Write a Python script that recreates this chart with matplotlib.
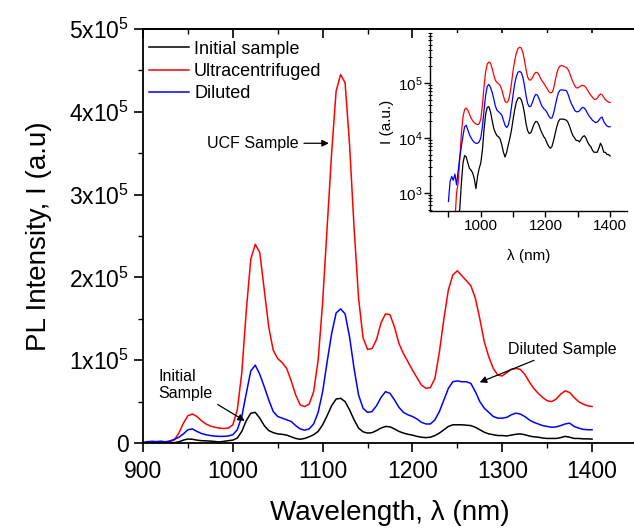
import numpy as np
import matplotlib
matplotlib.use('Agg')
import matplotlib.pyplot as plt
from matplotlib.ticker import MultipleLocator, FixedLocator, NullFormatter

plt.rcParams['font.family'] = ['Liberation Sans', 'DejaVu Sans']
plt.rcParams['mathtext.fontset'] = 'custom'
plt.rcParams['mathtext.rm'] = 'Liberation Sans'
plt.rcParams['mathtext.it'] = 'Liberation Sans:italic'

# wavelength grid (nm), 5 nm steps, 900..1400
wavelength = list(range(900, 1405, 5))

# PL intensities in units of 1e3
initial = [0.3, 0.3, 0.4, 0.4, 0.4, 0.4, 0.4, 0.5, 1.5, 3.5,
           4.8, 4.5, 3.5, 2.8, 2.6, 2.3, 1.8, 1.2, 2.0, 2.8,
           3.5, 6, 14, 27, 36, 37, 30, 21, 15, 12.5,
           11, 10.5, 9.5, 7.5, 5.5, 4.5, 5.5, 7.5, 10, 14,
           22, 33, 45, 53, 54, 50, 40, 28, 18, 13.5,
           12, 12.5, 15, 18, 20, 19.5, 17, 14, 12, 10.5,
           9.5, 8, 7, 6.5, 7, 9, 12, 16, 20, 22,
           22, 22, 21.5, 21, 19, 16, 13, 11, 10, 9,
           9, 8.5, 9.5, 10.5, 11, 10, 8.5, 7.5, 7, 6,
           5.5, 5.5, 5.5, 6.5, 8, 7, 5.5, 5.5, 5, 5, 4.7]

ultra = [0.3, 0.3, 0.3, 0.3, 0.3, 1.0, 1.5, 4, 12, 24,
         33, 35, 32, 27, 23, 20.5, 19, 18, 17.5, 18,
         22, 40, 85, 160, 222, 240, 230, 185, 140, 112,
         102, 97, 90, 75, 58, 46, 44, 47, 62, 100,
         170, 260, 350, 425, 445, 435, 360, 260, 175, 127,
         113, 114, 125, 145, 156, 155, 140, 120, 108, 98,
         88, 79, 70, 66, 67, 78, 110, 150, 185, 203,
         208, 202, 196, 190, 175, 150, 122, 104, 90, 82,
         81, 85, 89, 90, 89, 83, 74, 66, 60, 55,
         51, 50, 53, 59, 63, 61, 55, 50, 47, 45, 44]

diluted = [0.7, 1.6, 2.0, 1.7, 2.2, 1.4, 2.5, 4.5, 7, 11,
           16, 17, 14, 11.5, 10, 9, 8.3, 8, 8, 8.5,
           10, 16, 32, 60, 87, 94, 83, 68, 52, 38,
           32, 30, 28, 26, 21, 17, 15.5, 17, 23, 37,
           62, 98, 132, 157, 162, 156, 128, 90, 58, 42,
           37, 38, 45, 55, 62, 60, 52, 43, 37, 34,
           32, 29, 25, 23, 23, 28, 38, 52, 66, 74,
           75, 74, 74, 72, 62, 50, 42, 37, 32, 30,
           30, 31, 34, 36, 35, 32, 28, 25, 23, 21,
           20, 19, 19.5, 21, 23, 24, 20, 18, 16.5, 16, 16]

series = [('Initial sample', initial, 'black'),
          ('Ultracentrifuged', ultra, 'red'),
          ('Diluted', diluted, 'blue')]

W, H = 634, 529
fig = plt.figure(figsize=(W / 100, H / 100), dpi=100)

# main axes (right side runs past the picture edge, like the cropped original)
ax = fig.add_axes([143 / W, (H - 443) / H, (637 - 143) / W, (443 - 29) / H])
x = np.array(wavelength)
for name, vals, col in series:
    ax.plot(x, np.array(vals) * 1e3, color=col, lw=1.1, label=name)

ax.set_xlim(900, 1450)
ax.set_ylim(0, 5e5)
ax.spines['right'].set_visible(False)
ax.xaxis.set_minor_locator(MultipleLocator(50))
ax.yaxis.set_minor_locator(MultipleLocator(5e4))
ax.set_xticks([900, 1000, 1100, 1200, 1300, 1400])
ytick_labels = ['0'] + ['%dx10$^{5}$' % k for k in range(1, 6)]
ax.set_yticks([k * 1e5 for k in range(6)])
ax.set_yticklabels(ytick_labels)
ax.tick_params(which='major', direction='out', length=6.5, width=1.2,
               labelsize=16.5, top=False, right=False)
ax.tick_params(axis='x', which='major', pad=6)
ax.tick_params(axis='y', which='major', pad=3.5)
ax.tick_params(which='minor', direction='out', length=3.5, width=1.0,
               top=False, right=False)
for s in ['left', 'bottom', 'top']:
    ax.spines[s].set_linewidth(1.3)

top = ax.secondary_xaxis('top')
top.xaxis.set_major_locator(MultipleLocator(100))
top.xaxis.set_minor_locator(MultipleLocator(50))
top.tick_params(which='major', direction='in', length=6.5, width=1.2, labeltop=False)
top.tick_params(which='minor', direction='in', length=3.5, width=1.0)
top.xaxis.set_major_formatter(NullFormatter())
top.spines['top'].set_linewidth(1.3)

ax.set_xlabel('Wavelength, λ (nm)', fontsize=20, labelpad=12)
ax.set_ylabel('PL Intensity, I (a.u)', fontsize=20, labelpad=12)

leg = ax.legend(loc='upper left', bbox_to_anchor=(0.012, 0.972), frameon=False,
                fontsize=13, handlelength=2.2, handletextpad=0.3,
                labelspacing=0.3, borderpad=0, borderaxespad=0)

arrow = dict(arrowstyle='-|>', color='black', lw=0.9, mutation_scale=10)
ax.annotate('UCF Sample', xy=(1110, 3.62e5), xytext=(1073, 3.62e5),
            fontsize=11.5, ha='right', va='center', arrowprops=arrow)
ax.annotate('Initial\nSample', xy=(1016, 0.25e5), xytext=(917, 0.70e5),
            fontsize=11.5, ha='left', va='center', linespacing=1.15,
            arrowprops=arrow)
ax.annotate('Diluted Sample', xy=(1272, 0.72e5), xytext=(1306, 1.135e5),
            fontsize=11.5, ha='left', va='center', arrowprops=arrow)

# inset, log scale
ins = fig.add_axes([430 / W, (H - 211) / H, (627 - 430) / W, (211 - 33) / H])
for name, vals, col in series:
    ins.plot(x, np.array(vals) * 1e3, color=col, lw=0.9)
ins.set_yscale('log')
ins.set_xlim(843, 1452)
ins.set_ylim(470, 8.1e5)
ins.spines['top'].set_visible(False)
ins.spines['right'].set_visible(False)
ins.set_xticks([1000, 1200, 1400])
ins.xaxis.set_minor_locator(FixedLocator([900, 1100, 1300]))
ins.set_yticks([1e3, 1e4, 1e5])
ins.set_yticklabels(['10$^{3}$', '10$^{4}$', '10$^{5}$'])
ins.tick_params(which='major', direction='out', length=4, width=1.0,
                labelsize=11, pad=1.5)
ins.tick_params(axis='x', which='minor', direction='out', length=4, width=1.0)
ins.tick_params(axis='y', which='minor', direction='inout', length=2.5, width=0.7)
ins.set_xlabel('λ (nm)', fontsize=11, labelpad=12)
ins.set_ylabel('I (a.u.)', fontsize=11, labelpad=3)
for s in ['left', 'bottom']:
    ins.spines[s].set_linewidth(1.0)

fig.savefig('out.png', dpi=100)
